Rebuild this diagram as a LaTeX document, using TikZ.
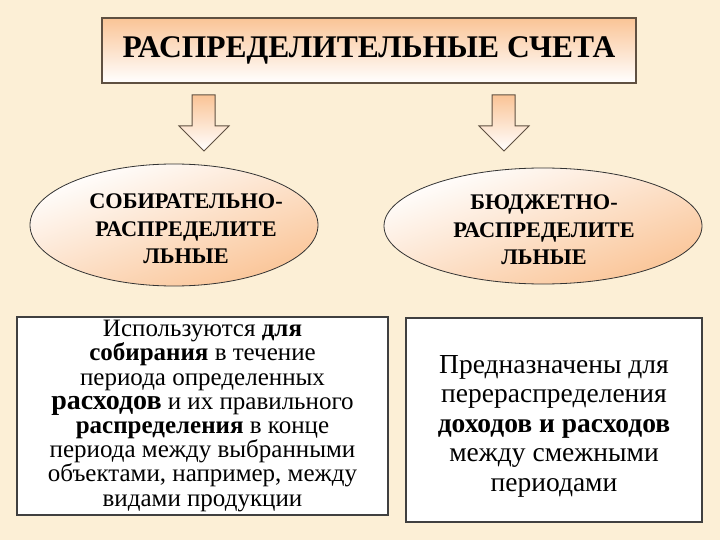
\documentclass[tikz,border=0pt]{standalone}
\usepackage{fontspec}
\setmainfont{Liberation Serif}
\usetikzlibrary{positioning,shapes.geometric}

\definecolor{parchment}{RGB}{252,239,214}
\definecolor{peach}{RGB}{250,196,150}
\definecolor{frame}{RGB}{95,80,65}

\tikzset{
	titlebox/.style={draw=frame,line width=1.2pt,top color=peach,bottom color=white,
		minimum width=534pt,minimum height=65pt,inner sep=0pt,
		font=\fontsize{31.5}{34}\selectfont\bfseries},
	kindell/.style={ellipse,draw=black!80,line width=0.8pt,top color=white,bottom color=peach,
		shading angle=20,minimum width=288pt,minimum height=122pt,inner sep=0pt},
	kindtext/.style={align=center,inner sep=0pt,font=\fontsize{22.3}{27.5}\selectfont\bfseries},
	notebox/.style={draw=black!75,line width=1.2pt,fill=white,inner sep=0pt,align=center},
	downarrow/.style={draw=frame,line width=1pt,top color=peach,bottom color=white},
}

\begin{document}
\begin{tikzpicture}[x=1pt,y=-1pt]

\fill[parchment] (0,0) rectangle (720,540);% background
\useasboundingbox (0,0) rectangle (720,540);

\node[titlebox] (title) at (369,50.5) {РАСПРЕДЕЛИТЕЛЬНЫЕ СЧЕТА};

%arrows
\shade[downarrow] (192,95) -- ++(23,0) -- ++(0,31) -- ++(14,0)
-- ++(-25,25) -- ++(-25,-25) -- ++(13,0) -- cycle;% left arrow
\shade[downarrow] (492,95) -- ++(23,0) -- ++(0,31) -- ++(14,0)
-- ++(-25,25) -- ++(-25,-25) -- ++(13,0) -- cycle;% right arrow

\node[kindell,label={[kindtext,xshift=12pt,yshift=-4pt]center:СОБИРАТЕЛЬНО-\\РАСПРЕДЕЛИТЕ\\ЛЬНЫЕ}]
(collect) at (174,225) {};
\node[kindell,minimum width=318pt,minimum height=116pt,
	label={[kindtext,xshift=1pt,yshift=-4pt]center:БЮДЖЕТНО-\\РАСПРЕДЕЛИТЕ\\ЛЬНЫЕ}]
(budget) at (543,226) {};

\node[notebox,minimum width=371pt,minimum height=198pt,
	font=\fontsize{25}{24.2}\selectfont] (collectnote) at (202.5,416)
{Используются \textbf{для}\\
	\textbf{собирания} в течение\\
	периода определенных\\
	{\fontsize{28}{24.2}\selectfont\textbf{расходов}} и их правильного\\
	\textbf{распределения} в конце\\
	периода между выбранными\\
	объектами, например, между\\
	видами продукции};

\node[notebox,minimum width=296pt,minimum height=204pt,
	label={[align=center,inner sep=0pt,yshift=-6pt,font=\fontsize{27.5}{29.5}\selectfont]center:Предназначены для\\
		перераспределения\\
		\textbf{доходов и расходов}\\
		между смежными\\
		периодами}] (budgetnote) at (554,420) {};

\end{tikzpicture}
\end{document}
